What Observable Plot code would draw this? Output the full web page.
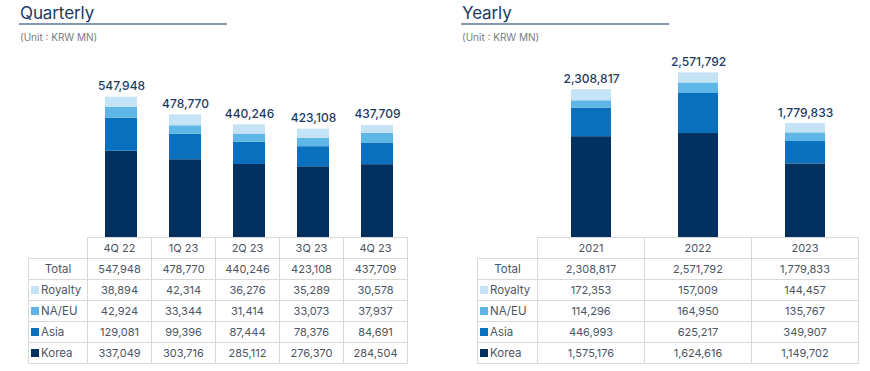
<!DOCTYPE html>
<html>
<head>
<meta charset="utf-8">
<script src="https://cdn.jsdelivr.net/npm/d3@7"></script>
<script src="https://cdn.jsdelivr.net/npm/@observablehq/plot@0.6"></script>
<style>
  body { margin: 0; background: #fff; font-family: Inter, "Noto Sans", sans-serif; }
  #wrap { position: relative; width: 870px; height: 371px; overflow: hidden; }
  .panel { position: absolute; top: 0; width: 435px; height: 371px; }
  .title { position: absolute; top: 3px; font-size: 17px; color: #1d3a63; letter-spacing: -0.1px; }
  .rule { position: absolute; top: 23px; height: 2px; width: 208px; background: #8497b0; }
  .unit { position: absolute; top: 31px; font-size: 10px; color: #747d88; }
  .chart { position: absolute; top: 45px; left: 0; }
  table { position: absolute; top: 237px; border-collapse: collapse; table-layout: fixed; font-size: 11px; color: #4b5563; }
  td { border: 1px solid #d9d9d9; height: 20px; padding: 0; text-align: center; white-space: nowrap; }
  td.blank { border: none; }
  td.lab { text-align: left; padding-left: 2px; font-size: 11.5px; }
  td.lab.total { text-align: center; padding-left: 0; }
  .sw { display: inline-block; width: 8px; height: 8px; margin-right: 2px; vertical-align: 0px; }
</style>
</head>
<body>
<div id="wrap"></div>
<script>
// ---- data ----
const segments = ["Korea", "Asia", "NA/EU", "Royalty"];
const segmentColors = ["#03315f", "#0a6fbd", "#5db6e6", "#c5e3f6"];
const tableRows = ["Royalty", "NA/EU", "Asia", "Korea"];

const quarters = ["4Q 22", "1Q 23", "2Q 23", "3Q 23", "4Q 23"];
const qKorea   = [337049, 303716, 285112, 276370, 284504];
const qAsia    = [129081, 99396, 87444, 78376, 84691];
const qNAEU    = [42924, 33344, 31414, 33073, 37937];
const qRoyalty = [38894, 42314, 36276, 35289, 30578];
const qTotal   = [547948, 478770, 440246, 423108, 437709];

const years    = ["2021", "2022", "2023"];
const yKorea   = [1575176, 1624616, 1149702];
const yAsia    = [446993, 625217, 349907];
const yNAEU    = [114296, 164950, 135767];
const yRoyalty = [172353, 157009, 144457];
const yTotal   = [2308817, 2571792, 1779833];

const fmt = d3.format(",");

function buildPanel(cfg) {
  const panel = document.createElement("div");
  panel.className = "panel";
  panel.style.left = cfg.left + "px";
  document.getElementById("wrap").appendChild(panel);

  const t = document.createElement("div");
  t.className = "title"; t.textContent = cfg.title; t.style.left = cfg.titleLeft + "px";
  panel.appendChild(t);
  const r = document.createElement("div");
  r.className = "rule"; r.style.left = (cfg.titleLeft - 1) + "px";
  panel.appendChild(r);
  const u = document.createElement("div");
  u.className = "unit"; u.textContent = "(Unit : KRW MN)"; u.style.left = cfg.titleLeft + "px";
  panel.appendChild(u);

  const series = { "Korea": cfg.korea, "Asia": cfg.asia, "NA/EU": cfg.naeu, "Royalty": cfg.royalty };
  const rows = [];
  segments.forEach(s => cfg.cats.forEach((c, i) => rows.push({ cat: c, seg: s, value: series[s][i] })));
  const totals = cfg.cats.map((c, i) => ({ cat: c, value: cfg.total[i] }));

  const plot = Plot.plot({
    width: 435,
    height: 192,
    marginTop: 0,
    marginBottom: 0,
    marginLeft: cfg.marginLeft,
    marginRight: cfg.marginRight,
    x: { domain: cfg.cats, paddingInner: cfg.padInner, paddingOuter: cfg.padInner / 2, axis: null },
    y: { domain: [0, cfg.yMax], axis: null },
    color: { domain: segments, range: segmentColors },
    marks: [
      Plot.barY(rows, { x: "cat", y: "value", fill: "seg", inset: 0 }),
      Plot.text(totals, {
        x: "cat", y: "value", text: d => fmt(d.value),
        lineAnchor: "bottom", dy: -7, fontSize: 12, fontWeight: 500, fill: "#1d3a63"
      })
    ],
    style: { fontFamily: "Inter, 'Noto Sans', sans-serif", background: "transparent", overflow: "visible" }
  });
  plot.classList.add("chart");
  panel.appendChild(plot);

  const xs = plot.scale("x");
  const colStart = Math.min(...xs.range);
  const step = xs.step;
  const labW = colStart - cfg.tableLeft;

  const table = d3.select(panel).append("table").style("left", cfg.tableLeft + "px");
  const cg = table.append("colgroup");
  cg.append("col").style("width", labW + "px");
  cfg.cats.forEach(() => cg.append("col").style("width", step + "px"));
  table.style("width", (labW + step * cfg.cats.length) + "px");

  const head = table.append("tr");
  head.append("td").attr("class", "blank");
  cfg.cats.forEach(c => head.append("td").text(c));

  const tr = table.append("tr");
  tr.append("td").attr("class", "lab total").text("Total");
  cfg.total.forEach(v => tr.append("td").text(fmt(v)));

  tableRows.forEach(s => {
    const row = table.append("tr");
    const lab = row.append("td").attr("class", "lab");
    lab.append("span").attr("class", "sw").style("background", segmentColors[segments.indexOf(s)]);
    lab.append("span").text(s);
    series[s].forEach(v => row.append("td").text(fmt(v)));
  });
}

buildPanel({
  title: "Quarterly", left: 0, titleLeft: 20,
  cats: quarters, korea: qKorea, asia: qAsia, naeu: qNAEU, royalty: qRoyalty, total: qTotal,
  marginLeft: 87, marginRight: 24, padInner: 0.5, yMax: 750000, tableLeft: 28
});
buildPanel({
  title: "Yearly", left: 435, titleLeft: 27,
  cats: years, korea: yKorea, asia: yAsia, naeu: yNAEU, royalty: yRoyalty, total: yTotal,
  marginLeft: 102, marginRight: 12, padInner: 0.63, yMax: 3000000, tableLeft: 42
});
</script>
</body>
</html>
